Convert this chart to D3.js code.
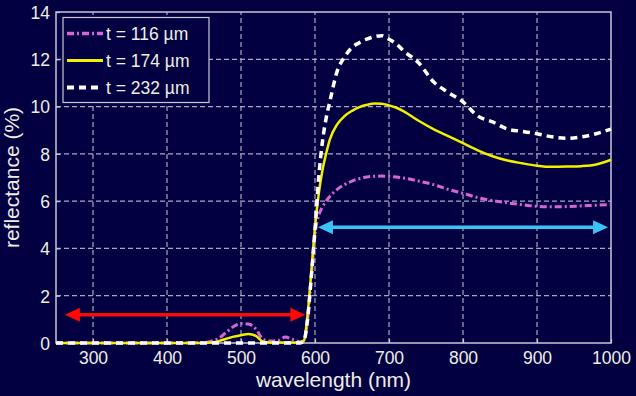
<!DOCTYPE html>
<html>
<head>
<meta charset="utf-8">
<script src="https://cdn.jsdelivr.net/npm/d3@7"></script>
<style>
  html, body { margin: 0; padding: 0; background: #020040; }
  svg { display: block; }
</style>
</head>
<body>
<svg id="chart" width="636" height="396"></svg>
<script>
// wavelength (nm) samples shared by the three curves
const wavelength = [250, 300, 350, 400, 450, 460, 470, 480, 490, 500, 510, 520, 530, 540, 550, 560, 570, 580, 585, 590,
  595, 600, 605, 610, 615, 620, 630, 640, 650, 660, 670, 680, 690, 700, 710, 720, 740, 760, 780, 800,
  820, 840, 860, 880, 900, 920, 940, 960, 980, 1000];

const r116 = [0, 0, 0, 0, 0.02, 0.08, 0.2, 0.45, 0.7, 0.82, 0.8, 0.6, 0.15, 0.08, 0.1, 0.25, 0.15, 0.05, 0.1, 1.0,
  2.8, 4.6, 5.4, 5.75, 6.0, 6.2, 6.5, 6.7, 6.85, 6.95, 7.02, 7.05, 7.06, 7.05, 7.02, 6.98, 6.85, 6.7, 6.5, 6.33,
  6.15, 6.02, 5.93, 5.85, 5.78, 5.76, 5.77, 5.8, 5.83, 5.86];

const r174 = [0, 0, 0, 0, 0, 0.02, 0.08, 0.18, 0.27, 0.33, 0.38, 0.3, 0.05, 0.02, 0.02, 0.02, 0.02, 0.02, 0.1, 1.2,
  3.0, 4.9, 6.3, 7.3, 8.0, 8.6, 9.25, 9.6, 9.82, 9.98, 10.07, 10.13, 10.12, 10.05, 9.95, 9.8, 9.4, 9.05, 8.75, 8.45,
  8.15, 7.9, 7.72, 7.6, 7.5, 7.45, 7.46, 7.48, 7.55, 7.75];

const r232 = [0, 0, 0, 0, 0, 0, 0, 0, 0, 0, 0, 0, 0, 0, 0, 0, 0, 0, 0.1, 1.0,
  2.8, 4.8, 7.0, 8.5, 9.5, 10.2, 11.5, 12.1, 12.5, 12.7, 12.85, 12.95, 13.0, 12.85, 12.65, 12.35, 11.85, 11.05, 10.6, 10.2,
  9.6, 9.35, 9.05, 8.95, 8.85, 8.72, 8.66, 8.72, 8.85, 9.05];

const seriesNames = ["t = 116 \u00b5m", "t = 174 \u00b5m", "t = 232 \u00b5m"];
const xTicks = [300, 400, 500, 600, 700, 800, 900, 1000];
const yTicks = [0, 2, 4, 6, 8, 10, 12, 14];

// arrows: [from nm, to nm, at reflectance]
const redArrow = [262, 587, 1.2];
const blueArrow = [604, 996, 4.9];

const styles = [
  { color: "#d865d8", width: 3, dash: "7,3,2,3" },
  { color: "#f0f000", width: 2.5, dash: null },
  { color: "#ffffff", width: 3.5, dash: "7,5" }
];

const margin = { left: 56, right: 25, top: 12, bottom: 53 };
const width = 636, height = 396;
const svg = d3.select("#chart");

const x = d3.scaleLinear().domain([250, 1000]).range([margin.left, width - margin.right]);
const y = d3.scaleLinear().domain([0, 14]).range([height - margin.bottom, margin.top]);

svg.append("rect").attr("width", width).attr("height", height).attr("fill", "#020040");

// grid
const gridColor = "#a8a8c0";
svg.append("g")
  .selectAll("line")
  .data(xTicks.filter(d => d < 1000))
  .join("line")
  .attr("x1", d => x(d)).attr("x2", d => x(d))
  .attr("y1", y(0)).attr("y2", y(14))
  .attr("stroke", gridColor).attr("stroke-width", 1.2).attr("stroke-dasharray", "5,3");

svg.append("g")
  .selectAll("line")
  .data(yTicks.filter(d => d > 0 && d < 14))
  .join("line")
  .attr("x1", x(250)).attr("x2", x(1000))
  .attr("y1", d => y(d)).attr("y2", d => y(d))
  .attr("stroke", gridColor).attr("stroke-width", 1.2).attr("stroke-dasharray", "5,3");

// axes (ticks inside, MATLAB style)
const xAxis = svg.append("g")
  .attr("transform", `translate(0,${y(0)})`)
  .call(d3.axisBottom(x).tickValues(xTicks).tickFormat(d3.format("d")).tickSize(-4).tickPadding(9));
const yAxis = svg.append("g")
  .attr("transform", `translate(${x(250)},0)`)
  .call(d3.axisLeft(y).tickValues(yTicks).tickFormat(d3.format("d")).tickSize(-4).tickPadding(6));

[xAxis, yAxis].forEach(g => {
  g.select(".domain").remove();
  g.selectAll(".tick line").attr("stroke", "#c8c8d8").attr("stroke-width", 1.2);
  g.selectAll(".tick text")
    .attr("fill", "#eeeee4")
    .attr("font-family", "Liberation Sans, Arial, sans-serif")
    .attr("font-size", 17.5);
});
yAxis.selectAll(".tick text").attr("dy", "0.36em");

// box
svg.append("rect")
  .attr("x", x(250)).attr("y", y(14))
  .attr("width", x(1000) - x(250)).attr("height", y(0) - y(14))
  .attr("fill", "none").attr("stroke", "#c8c8d8").attr("stroke-width", 1.5);

// curves
const seriesValues = [r116, r174, r232];
const line = d3.line()
  .x(d => x(d[0]))
  .y(d => y(d[1]))
  .curve(d3.curveMonotoneX);

seriesValues.forEach((vals, i) => {
  const pts = wavelength.map((w, j) => [w, vals[j]]);
  svg.append("path")
    .datum(pts)
    .attr("d", line)
    .attr("fill", "none")
    .attr("stroke", styles[i].color)
    .attr("stroke-width", styles[i].width)
    .attr("stroke-dasharray", styles[i].dash)
    .attr("stroke-linejoin", "round");
});

// arrows
const drawArrow = (a, color) => {
  const x1 = x(a[0]), x2 = x(a[1]), yy = y(a[2]);
  const hl = 15, hw = 7;
  svg.append("line")
    .attr("x1", x1 + hl - 2).attr("x2", x2 - hl + 2)
    .attr("y1", yy).attr("y2", yy)
    .attr("stroke", color).attr("stroke-width", 3.5);
  svg.append("path")
    .attr("d", `M${x1},${yy}L${x1 + hl},${yy - hw}L${x1 + hl},${yy + hw}Z`)
    .attr("fill", color);
  svg.append("path")
    .attr("d", `M${x2},${yy}L${x2 - hl},${yy - hw}L${x2 - hl},${yy + hw}Z`)
    .attr("fill", color);
};
drawArrow(redArrow, "#ff0808");
drawArrow(blueArrow, "#38c4f4");

// legend
const legend = svg.append("g");
legend.append("rect")
  .attr("x", 63).attr("y", 17.5).attr("width", 146).attr("height", 85)
  .attr("fill", "#020040").attr("stroke", "#c8c8d8").attr("stroke-width", 1.2);

seriesNames.forEach((name, i) => {
  const ly = 33.5 + i * 27;
  legend.append("line")
    .attr("x1", 67).attr("x2", 103)
    .attr("y1", ly).attr("y2", ly)
    .attr("stroke", styles[i].color)
    .attr("stroke-width", styles[i].width + 0.5)
    .attr("stroke-dasharray", styles[i].dash);
  legend.append("text")
    .attr("x", 106).attr("y", ly + 6)
    .attr("fill", "#eeeee4")
    .attr("font-family", "Liberation Sans, Arial, sans-serif")
    .attr("font-size", 17.5)
    .text(name);
});

// axis titles
svg.append("text")
  .attr("x", (x(250) + x(1000)) / 2).attr("y", 387)
  .attr("text-anchor", "middle")
  .attr("fill", "#eeeee4")
  .attr("font-family", "Liberation Sans, Arial, sans-serif")
  .attr("font-size", 21)
  .text("wavelength (nm)");

svg.append("text")
  .attr("transform", `translate(19,${(y(0) + y(14)) / 2}) rotate(-90)`)
  .attr("text-anchor", "middle")
  .attr("fill", "#eeeee4")
  .attr("font-family", "Liberation Sans, Arial, sans-serif")
  .attr("font-size", 21)
  .text("reflectance (%)");
</script>
</body>
</html>
